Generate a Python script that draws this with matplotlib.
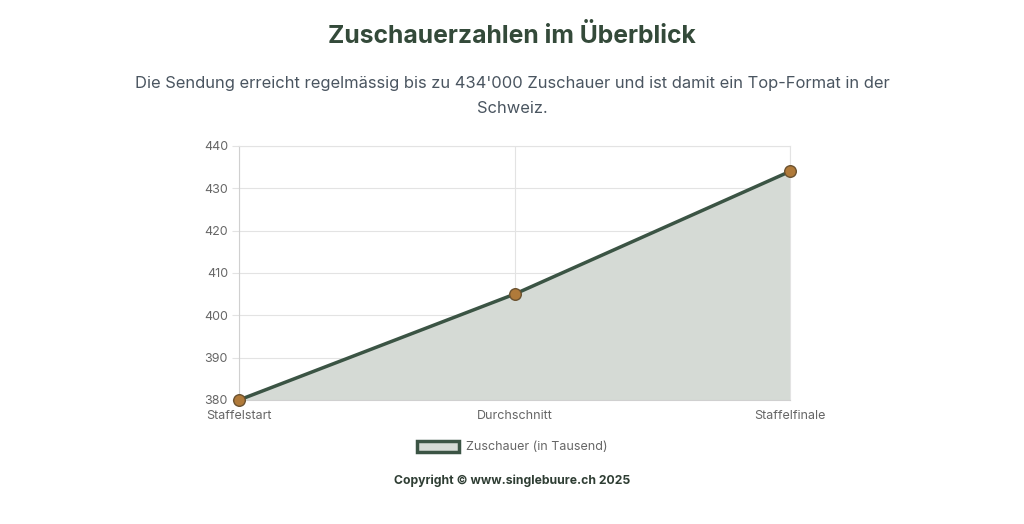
import matplotlib.pyplot as plt
from matplotlib.patches import Patch

plt.rcParams['font.family'] = ['Inter', 'DejaVu Sans']

# Daten
kategorien = ['Staffelstart', 'Durchschnitt', 'Staffelfinale']
zuschauer = [380, 405, 434]
y_ticks = [380, 390, 400, 410, 420, 430, 440]

linie = '#3b5444'
flaeche = '#d5dad5'
punkt = '#b07a3a'

fig = plt.figure(figsize=(10.24, 5.24), dpi=100)
ax = fig.add_axes([239 / 1024, 124 / 524, 551 / 1024, 254 / 524])

x = range(len(kategorien))
ax.fill_between(x, zuschauer, 380, color=flaeche, zorder=1)
ax.plot(x, zuschauer, color=linie, linewidth=2.5, zorder=2)
ax.scatter(x, zuschauer, s=70, color=punkt, edgecolor='#6b5230', linewidth=1, zorder=3, clip_on=False)

ax.set_xlim(0, 2)
ax.set_ylim(380, 440)
ax.set_yticks(y_ticks)
ax.set_xticks(list(x))
ax.set_xticklabels(kategorien)
ax.grid(True, color='#e3e3e3', linewidth=0.8)
ax.set_axisbelow(True)
for s in ax.spines.values():
    s.set_color('#e3e3e3')
ax.spines['left'].set_color('#d0d0d0')
ax.spines['bottom'].set_color('#d0d0d0')
ax.tick_params(axis='y', colors='#666666', labelsize=9, length=5, width=0.8, pad=3)
ax.tick_params(axis='x', colors='#666666', labelsize=9, length=0, pad=7)
ax.tick_params(axis='y', color='#e3e3e3')

fig.text(0.5, 1 - 36 / 524, 'Zuschauerzahlen im Überblick', ha='center', va='center',
         fontsize=17.8, fontweight='bold', color='#344a3a')
fig.text(0.5, 1 - 96 / 524,
         'Die Sendung erreicht regelmässig bis zu 434\'000 Zuschauer und ist damit ein Top-Format in der\nSchweiz.',
         ha='center', va='center', fontsize=11.9, color='#4a5560', linespacing=1.85)

handle = Patch(facecolor=flaeche, edgecolor=linie, linewidth=2.5)
fig.legend([handle], ['Zuschauer (in Tausend)'], loc='center', bbox_to_anchor=(0.5, 1 - 447 / 524),
           frameon=False, fontsize=9, labelcolor='#666666', handlelength=3.4, handleheight=1.0,
           handletextpad=0.5)

fig.text(0.5, 1 - 481 / 524, 'Copyright © www.singlebuure.ch 2025', ha='center', va='center',
         fontsize=8.8, fontweight='bold', color='#2f3e34')

fig.savefig('out.png', dpi=100, facecolor='white')
